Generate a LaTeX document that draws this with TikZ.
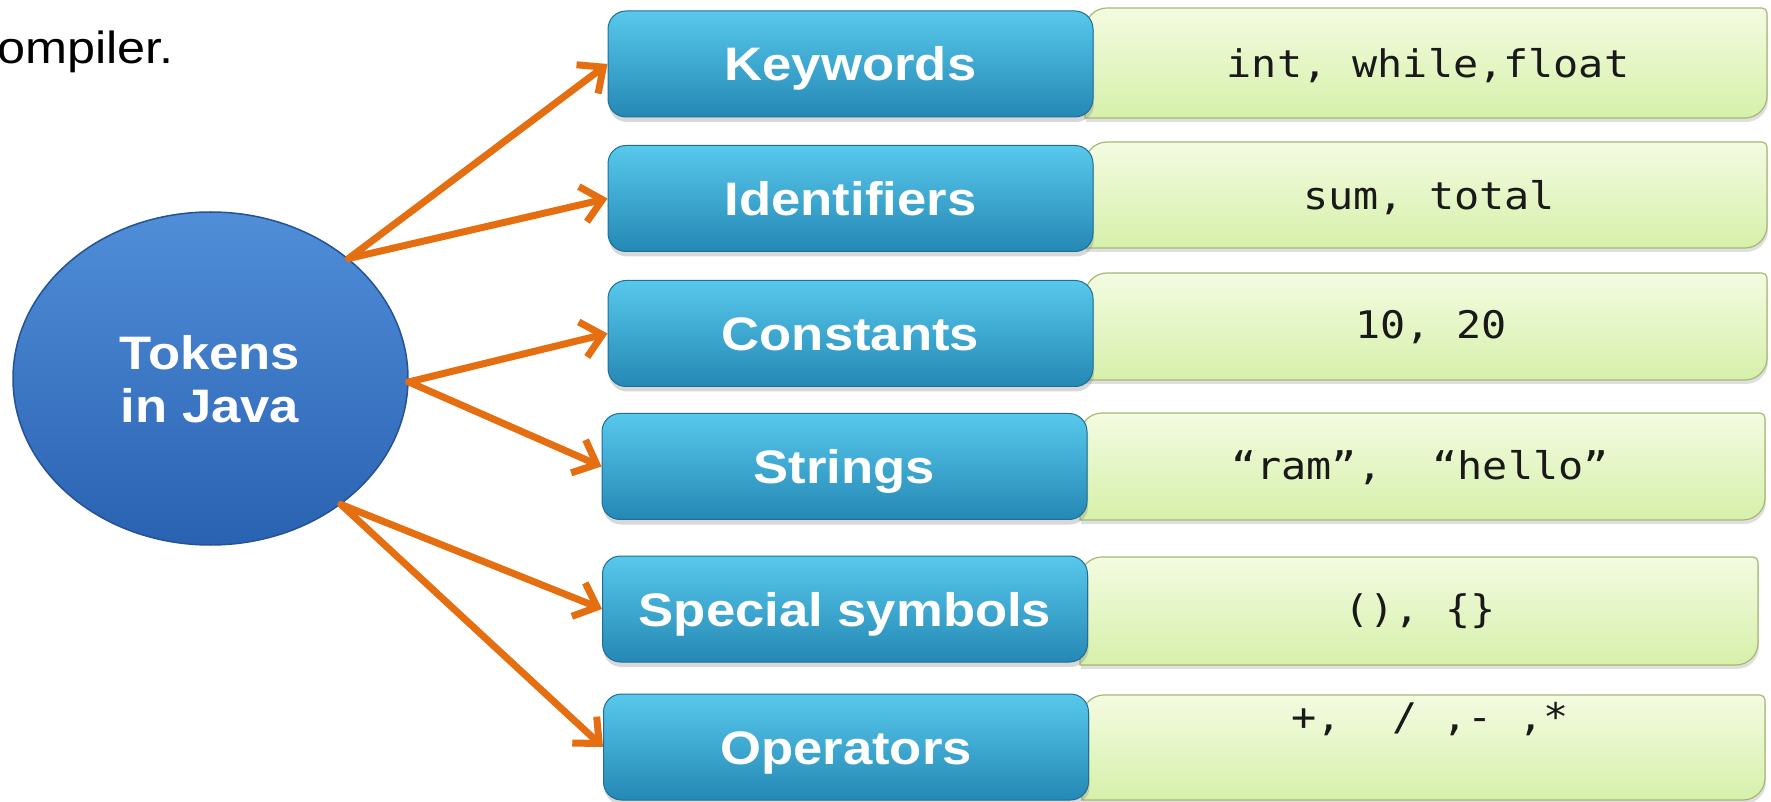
\documentclass[tikz,border=0pt]{standalone}
\usepackage{fontspec}
\usetikzlibrary{shapes.geometric,arrows.meta,shadows}
\newfontfamily\lblfont[FakeStretch=1.12]{Liberation Sans}
\newfontfamily\codefont[FakeStretch=1.1]{DejaVu Sans Mono}
\definecolor{arrorange}{RGB}{228,110,16}
\definecolor{bluetop}{RGB}{88,200,236}
\definecolor{bluebot}{RGB}{36,136,180}
\definecolor{blueedge}{RGB}{30,110,150}
\definecolor{greentop}{RGB}{244,251,225}
\definecolor{greenbot}{RGB}{214,240,170}
\definecolor{greenedge}{RGB}{165,185,115}
\definecolor{elltop}{RGB}{80,142,216}
\definecolor{ellbot}{RGB}{42,98,178}
\definecolor{elledge}{RGB}{36,82,150}
\definecolor{codetext}{RGB}{25,25,25}
\newcommand\gbox[4]{%
  \path[valbox] (#1,#2) -- (#1,#4-22) arc[start angle=180,end angle=90,radius=22pt]
    -- (#3-5,#4) arc[start angle=90,end angle=0,radius=5pt]
    -- (#3,#2+22) arc[start angle=0,end angle=-90,radius=22pt] -- cycle;}
\tikzset{
  catbox/.style={rectangle, rounded corners=18pt, minimum width=485pt, minimum height=106pt,
    inner sep=0pt, draw=blueedge, line width=1pt, top color=bluetop, bottom color=bluebot,
    text=white, font=\lblfont\bfseries\fontsize{47}{50}\selectfont, text height=34pt, text depth=0pt,
    drop shadow={shadow xshift=1pt, shadow yshift=-5pt, opacity=0.3}},
  code/.style={font=\codefont\fontsize{38}{40}\selectfont, text=codetext, anchor=base, inner sep=0pt},
  arr/.style={draw=arrorange, line width=7pt, line cap=round, line join=round,
    -{Straight Barb[length=20pt,width=36pt]}},
  valbox/.style={draw=greenedge, line width=1.2pt, top color=greentop, bottom color=greenbot,
    drop shadow={shadow xshift=1pt, shadow yshift=-4pt, opacity=0.25}},
  elltext/.style={anchor=base, inner sep=0pt, text=white, font=\lblfont\bfseries\fontsize{47}{50}\selectfont},
}
\begin{document}
\begin{tikzpicture}[x=1pt,y=1pt]
\fill[white] (0,0) rectangle (1771,801);

% value boxes
\gbox{1085}{683}{1767}{793}
\gbox{1085}{553}{1767}{659}
\gbox{1085}{421}{1767}{528}
\gbox{1080}{281}{1765}{388}
\gbox{1080}{136}{1758}{244}
\gbox{1082}{1}{1765}{106}

% category boxes
\node[catbox] (kw) at (850.5,737) {Keywords};
\node[catbox] (id) at (850.5,602.5) {Identifiers};
\node[catbox] (co) at (850.5,467.5) {Constants};
\node[catbox] (st) at (844.5,334.5) {Strings};
\node[catbox] (sp) at (845,192) {Special symbols};
\node[catbox] (op) at (846,54) {Operators};

% central ellipse
\node[ellipse, minimum width=395pt, minimum height=333pt, inner sep=0pt, draw=elledge,
  line width=1.5pt, top color=elltop, bottom color=ellbot] (tok) at (210.5,422.5) {};
\node[elltext] (t1) at (210,431) {Tokens};
\node[elltext] (t2) at (210,378) {in Java};

% arrows
\draw[arr] (tok.41.2) -- (kw.west);
\draw[arr] (tok.41.2) -- (id.west);
\draw[arr] (tok.-1.9) -- (co.west);
\draw[arr] (tok.-1.9) -- (st.west);
\draw[arr] (tok.-44) -- (sp.west);
\draw[arr] (tok.-44) -- (op.west);

% values
\node[code] (v1) at (1428,723) {int, while,float};
\node[code] (v2) at (1429,591) {sum, total};
\node[code] (v3) at (1431,462) {10, 20};
\node[code] (v4) at (1420,321) {“ram”,\ \ “hello”};
\node[code] (v5) at (1420,179) {(), \{\}};
\node[code] (v6) at (1430,71) {+,\ \ / ,- ,*};

% cut-off heading text
\node[anchor=base west, inner sep=0pt, font=\lblfont\fontsize{45}{48}\selectfont] (cmp) at (-3,737) {ompiler.};

\pgfresetboundingbox
\useasboundingbox (0,0) rectangle (1771,801);
\end{tikzpicture}
\end{document}
